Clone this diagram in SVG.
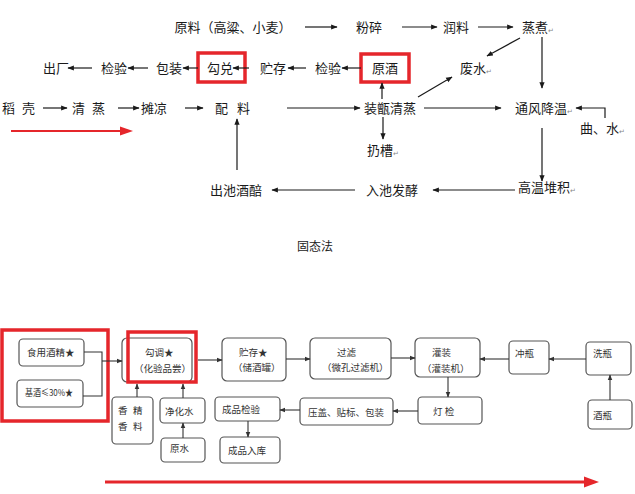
<svg xmlns="http://www.w3.org/2000/svg" width="635" height="494" viewBox="0 0 635 494">
<style>
.t{font-family:"Noto Sans CJK SC","Liberation Sans",sans-serif;font-size:13px;fill:#1a1a1a}
.r{font-family:"Noto Sans CJK SC","Liberation Sans",sans-serif;font-size:7px;fill:#888}
.s{font-family:"Noto Sans CJK SC","Liberation Sans",sans-serif;font-size:9.5px;fill:#333}
.c{fill:none;stroke:#1a1a1a;stroke-width:1.2}
.cb{fill:none;stroke:#333;stroke-width:1.1}
.b{fill:#fff;stroke:#555;stroke-width:1.2}
.red{fill:none;stroke:#e5262b;stroke-width:3.5}
</style>
<defs>
<marker id="a" viewBox="0 0 10 10" refX="9" refY="5" markerWidth="6.5" markerHeight="6.5" orient="auto" markerUnits="userSpaceOnUse">
<path d="M0,1 L10,5 L0,9 z" fill="#1a1a1a"/>
</marker>
<marker id="ab" viewBox="0 0 10 10" refX="9" refY="5" markerWidth="6" markerHeight="6" orient="auto" markerUnits="userSpaceOnUse">
<path d="M0,1 L10,5 L0,9 z" fill="#333"/>
</marker>
</defs>
<rect width="635" height="494" fill="#fff"/>

<!-- top section nodes -->
<g id="n-yuanliao"><text class="t" x="233" y="32" text-anchor="middle">原料（高粱、小麦）</text></g>
<g id="n-fensui"><text class="t" x="369" y="32" text-anchor="middle">粉碎</text></g>
<g id="n-runliao"><text class="t" x="456" y="32" text-anchor="middle">润料</text></g>
<g id="n-zhengzhu"><text class="t" x="522" y="32">蒸煮<tspan class="r" dy="1">↵</tspan></text></g>
<g id="n-feishui"><text class="t" x="460" y="73">废水<tspan class="r" dy="1">↵</tspan></text></g>
<g id="n-chuchang"><text class="t" x="56" y="73" text-anchor="middle">出厂</text></g>
<g id="n-jianyan1"><text class="t" x="114" y="73" text-anchor="middle">检验</text></g>
<g id="n-baozhuang"><text class="t" x="169" y="73" text-anchor="middle">包装</text></g>
<g id="n-goudui"><rect class="red" x="198" y="53" width="47" height="29"/><text class="t" x="220" y="73" text-anchor="middle">勾兑</text></g>
<g id="n-zhucun"><text class="t" x="273" y="73" text-anchor="middle">贮存</text></g>
<g id="n-jianyan2"><text class="t" x="328" y="73" text-anchor="middle">检验</text></g>
<g id="n-yuanjiu"><rect class="red" x="361" y="54" width="48" height="28"/><text class="t" x="385" y="73" text-anchor="middle">原酒</text></g>
<g id="n-daoke"><text class="t" x="2" y="113" textLength="33">稻 壳</text></g>
<g id="n-qingzheng"><text class="t" x="72" y="113" textLength="33">清 蒸</text></g>
<g id="n-tanliang"><text class="t" x="154" y="113" text-anchor="middle">摊凉</text></g>
<g id="n-peiliao"><text class="t" x="215" y="113" textLength="35">配 料</text></g>
<g id="n-zhuangzeng"><text class="t" x="390" y="113" text-anchor="middle">装甑清蒸</text></g>
<g id="n-tongfeng"><text class="t" x="515" y="113">通风降温<tspan class="r" dy="1">↵</tspan></text></g>
<g id="n-qushui"><text class="t" x="580" y="133">曲、水<tspan class="r" dy="1">↵</tspan></text></g>
<g id="n-rengcao"><text class="t" x="367" y="155">扔槽<tspan class="r" dy="1">↵</tspan></text></g>
<g id="n-gaowen"><text class="t" x="518" y="192">高温堆积<tspan class="r" dy="1">↵</tspan></text></g>
<g id="n-ruchi"><text class="t" x="392" y="195" text-anchor="middle">入池发酵</text></g>
<g id="n-chuchi"><text class="t" x="236" y="195" text-anchor="middle">出池酒醅</text></g>

<g id="title"><text x="315" y="251" text-anchor="middle" font-family="'Noto Sans CJK SC',sans-serif" font-size="12" fill="#222">固态法</text></g>

<!-- bottom section nodes -->
<g id="n-shiyong"><rect class="b" x="19" y="339" width="65" height="27" rx="4"/><text class="s" x="27" y="356">食用酒精★</text></g>
<g id="n-jijiu"><rect class="b" x="17" y="380" width="66" height="27" rx="4"/><text class="s" x="25" y="396" textLength="48" lengthAdjust="spacingAndGlyphs">基酒≤30%★</text></g>
<g id="n-goutiao"><rect class="b" x="122" y="338" width="70" height="44" rx="5"/><text class="s" x="145" y="356">勾调★</text><text class="s" x="134" y="372">（化验品尝）</text></g>
<g id="n-zhucun2"><rect class="b" x="222" y="338" width="64" height="43" rx="5"/><text class="s" x="239" y="356">贮存★</text><text class="s" x="233" y="371">（储酒罐）</text></g>
<g id="n-guolv"><rect class="b" x="310" y="338" width="81" height="41" rx="5"/><text class="s" x="337" y="356">过滤</text><text class="s" x="322" y="371">（微孔过滤机）</text></g>
<g id="n-guanzhuang"><rect class="b" x="415" y="338" width="65" height="39" rx="5"/><text class="s" x="432" y="356">灌装</text><text class="s" x="422" y="372">（灌装机）</text></g>
<g id="n-chongping"><rect class="b" x="509" y="341" width="40" height="33" rx="4"/><text class="s" x="515" y="357">冲瓶</text></g>
<g id="n-xiping"><rect class="b" x="586" y="342" width="45" height="33" rx="4"/><text class="s" x="593" y="357">洗瓶</text></g>
<g id="n-jiuping"><rect class="b" x="588" y="400" width="44" height="29" rx="4"/><text class="s" x="593" y="419">酒瓶</text></g>
<g id="n-dengjian"><rect class="b" x="418" y="397" width="64" height="27" rx="4"/><text class="s" x="433" y="415">灯 检</text></g>
<g id="n-yagai"><rect class="b" x="300" y="398" width="93" height="27" rx="4"/><text class="s" x="308" y="416">压盖、贴标、包装</text></g>
<g id="n-chengpinjy"><rect class="b" x="215" y="397" width="65" height="24" rx="4"/><text class="s" x="222" y="413">成品检验</text></g>
<g id="n-chengpinrk"><rect class="b" x="220" y="437" width="60" height="26" rx="4"/><text class="s" x="228" y="454">成品入库</text></g>
<g id="n-xiangjing"><rect class="b" x="112" y="397" width="41" height="47" rx="4"/><text class="s" x="118" y="414">香</text><text class="s" x="133" y="414">精</text><text class="s" x="118" y="430">香</text><text class="s" x="133" y="430">料</text></g>
<g id="n-jinghua"><rect class="b" x="160" y="398" width="45" height="25" rx="4"/><text class="s" x="165" y="415">净化水</text></g>
<g id="n-yuanshui"><rect class="b" x="161" y="438" width="44" height="24" rx="4"/><text class="s" x="170" y="452">原水</text></g>

<!-- red highlight boxes bottom -->
<g id="hl">
<rect class="red" x="2" y="330" width="106" height="91" stroke-width="4"/>
<rect class="red" x="128" y="332" width="68" height="50" stroke-width="4"/>
</g>

<!-- connectors -->
<g id="connectors">
<line class="c" x1="305" y1="27" x2="337" y2="27" marker-end="url(#a)"/>
<line class="c" x1="402" y1="27" x2="437" y2="27" marker-end="url(#a)"/>
<line class="c" x1="478" y1="27" x2="513" y2="27" marker-end="url(#a)"/>
<line class="c" x1="520" y1="38" x2="487" y2="56" marker-end="url(#a)"/>
<line class="c" x1="542" y1="37" x2="542" y2="88" marker-end="url(#a)"/>
<line class="c" x1="92" y1="68" x2="68" y2="68" marker-end="url(#a)"/>
<line class="c" x1="148" y1="68" x2="128" y2="68" marker-end="url(#a)"/>
<line class="c" x1="198" y1="68" x2="183" y2="68" marker-end="url(#a)"/>
<line class="c" x1="249" y1="68" x2="233" y2="68" marker-end="url(#a)"/>
<line class="c" x1="306" y1="68" x2="288" y2="68" marker-end="url(#a)"/>
<line class="c" x1="361" y1="68" x2="342" y2="68" marker-end="url(#a)"/>
<line class="c" x1="382" y1="99" x2="382" y2="83" marker-end="url(#a)"/>
<line class="c" x1="418" y1="97" x2="452" y2="77" marker-end="url(#a)"/>
<line class="c" x1="43" y1="108" x2="67" y2="108" marker-end="url(#a)"/>
<line class="c" x1="118" y1="108" x2="139" y2="108" marker-end="url(#a)"/>
<line class="c" x1="185" y1="108" x2="203" y2="108" marker-end="url(#a)"/>
<line class="c" x1="287" y1="108" x2="360" y2="108" marker-end="url(#a)"/>
<line class="c" x1="424" y1="108" x2="501" y2="108" marker-end="url(#a)"/>
<polyline class="c" points="605,118 605,108 576,108" marker-end="url(#a)"/>
<line class="c" x1="542" y1="128" x2="542" y2="181" marker-end="url(#a)"/>
<line class="c" x1="515" y1="190" x2="433" y2="190" marker-end="url(#a)"/>
<line class="c" x1="355" y1="190" x2="272" y2="190" marker-end="url(#a)"/>
<line class="c" x1="237" y1="170" x2="237" y2="119" marker-end="url(#a)"/>
<line class="c" x1="383" y1="117" x2="383" y2="139" marker-end="url(#a)"/>
<!-- red direction arrows -->
<line x1="11" y1="131" x2="122" y2="131" stroke="#e5262b" stroke-width="2"/>
<path d="M120,126.5 L133,131 L120,135.5 z" fill="#e5262b"/>
<line x1="105" y1="482" x2="586" y2="482" stroke="#e5262b" stroke-width="2.8"/>
<path d="M584,476.5 L599,482 L584,487.5 z" fill="#e5262b"/>
<!-- bottom -->
<polyline class="cb" points="84,352 102,352 102,396 83,396"/>
<line class="cb" x1="102" y1="361" x2="122" y2="361" marker-end="url(#ab)"/>
<line class="cb" x1="198" y1="360" x2="222" y2="360" marker-end="url(#ab)"/>
<line class="cb" x1="286" y1="359" x2="310" y2="359" marker-end="url(#ab)"/>
<line class="cb" x1="391" y1="358" x2="415" y2="358" marker-end="url(#ab)"/>
<line class="cb" x1="509" y1="359" x2="480" y2="359" marker-end="url(#ab)"/>
<line class="cb" x1="586" y1="359" x2="549" y2="359" marker-end="url(#ab)"/>
<line class="cb" x1="610" y1="400" x2="610" y2="375" marker-end="url(#ab)"/>
<line class="cb" x1="448" y1="377" x2="448" y2="397" marker-end="url(#ab)"/>
<line class="cb" x1="418" y1="411" x2="393" y2="411" marker-end="url(#ab)"/>
<line class="cb" x1="300" y1="410" x2="280" y2="410" marker-end="url(#ab)"/>
<line class="cb" x1="248" y1="421" x2="248" y2="437" marker-end="url(#ab)"/>
<line class="cb" x1="137" y1="397" x2="137" y2="384" marker-end="url(#ab)"/>
<line class="cb" x1="183" y1="398" x2="183" y2="384" marker-end="url(#ab)"/>
<line class="cb" x1="183" y1="438" x2="183" y2="423" marker-end="url(#ab)"/>
</g>
</svg>
